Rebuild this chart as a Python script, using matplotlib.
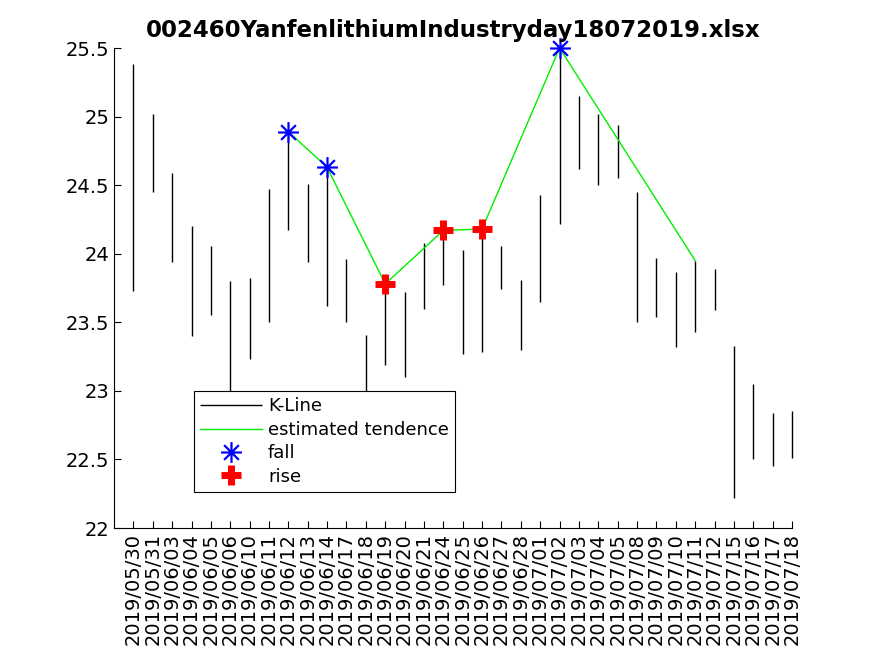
import matplotlib
matplotlib.use("Agg")
import matplotlib.pyplot as plt
from matplotlib.path import Path

dates = ["2019/05/30", "2019/05/31", "2019/06/03", "2019/06/04", "2019/06/05",
         "2019/06/06", "2019/06/10", "2019/06/11", "2019/06/12", "2019/06/13",
         "2019/06/14", "2019/06/17", "2019/06/18", "2019/06/19", "2019/06/20",
         "2019/06/21", "2019/06/24", "2019/06/25", "2019/06/26", "2019/06/27",
         "2019/06/28", "2019/07/01", "2019/07/02", "2019/07/03", "2019/07/04",
         "2019/07/05", "2019/07/08", "2019/07/09", "2019/07/10", "2019/07/11",
         "2019/07/12", "2019/07/15", "2019/07/16", "2019/07/17", "2019/07/18"]

high = [25.38, 25.02, 24.59, 24.20, 24.06, 23.80, 23.82, 24.47, 24.89, 24.51,
        24.63, 23.96, 23.41, 23.78, 23.72, 24.08, 24.17, 24.03, 24.18, 24.06,
        23.81, 24.43, 25.50, 25.15, 25.02, 24.94, 24.45, 23.97, 23.87, 23.95,
        23.89, 23.33, 23.05, 22.84, 22.85]
low = [23.73, 24.45, 23.94, 23.40, 23.55, 22.85, 23.23, 23.50, 24.17, 23.94,
       23.62, 23.50, 22.90, 23.19, 23.10, 23.60, 23.77, 23.27, 23.28, 23.74,
       23.30, 23.65, 24.22, 24.62, 24.50, 24.55, 23.50, 23.54, 23.32, 23.43,
       23.59, 22.22, 22.50, 22.45, 22.51]

# turning points (1-based day index)
trend_idx = [9, 11, 14, 17, 19, 23, 30]
trend_val = [24.89, 24.63, 23.78, 24.17, 24.18, 25.50, 23.95]
fall_idx = [9, 11, 23]
fall_val = [24.89, 24.63, 25.50]
rise_idx = [14, 17, 19]
rise_val = [23.78, 24.17, 24.18]

ast = Path([(-1, 0), (1, 0), (0, -1), (0, 1),
            (-0.707, -0.707), (0.707, 0.707), (-0.707, 0.707), (0.707, -0.707)],
           [Path.MOVETO, Path.LINETO] * 4)

fig = plt.figure(figsize=(8.75, 6.56), dpi=100)
ax = fig.add_axes([0.1303, 0.1951, 0.7749, 0.7317])

x = list(range(1, len(dates) + 1))
ax.vlines(x, low, high, colors="k", linewidth=1, label="K-Line", clip_on=False)
ax.plot(trend_idx, trend_val, color="#00ee00", linewidth=1, label="estimated tendence")
ax.plot(fall_idx, fall_val, linestyle="none", marker=ast, markersize=15,
        markeredgewidth=1.6, color="blue", label="fall", clip_on=False)
ax.plot(rise_idx, rise_val, linestyle="none", marker="+", markersize=14,
        markeredgewidth=5, color="red", label="rise")

ax.set_xlim(0, 35)
ax.set_ylim(22, 25.5)
ax.set_xticks(x)
ax.set_xticklabels(dates, rotation=90)
ax.set_yticks([22, 22.5, 23, 23.5, 24, 24.5, 25, 25.5])
ax.set_yticklabels(["22", "22.5", "23", "23.5", "24", "24.5", "25", "25.5"])
ax.tick_params(direction="in", length=5, labelsize=14, colors="k")
ax.spines["top"].set_visible(False)
ax.spines["right"].set_visible(False)
ax.set_title("002460YanfenlithiumIndustryday18072019.xlsx", fontsize=16.5,
             fontweight="bold", pad=8)

leg = ax.legend(loc="lower left", bbox_to_anchor=(0.118, 0.075), borderaxespad=0,
                fontsize=13, handlelength=3.4, fancybox=False, framealpha=1,
                edgecolor="k", borderpad=0.35, labelspacing=0.3, handletextpad=0.35)
leg.get_frame().set_linewidth(0.8)

fig.savefig("out.png", dpi=100)
